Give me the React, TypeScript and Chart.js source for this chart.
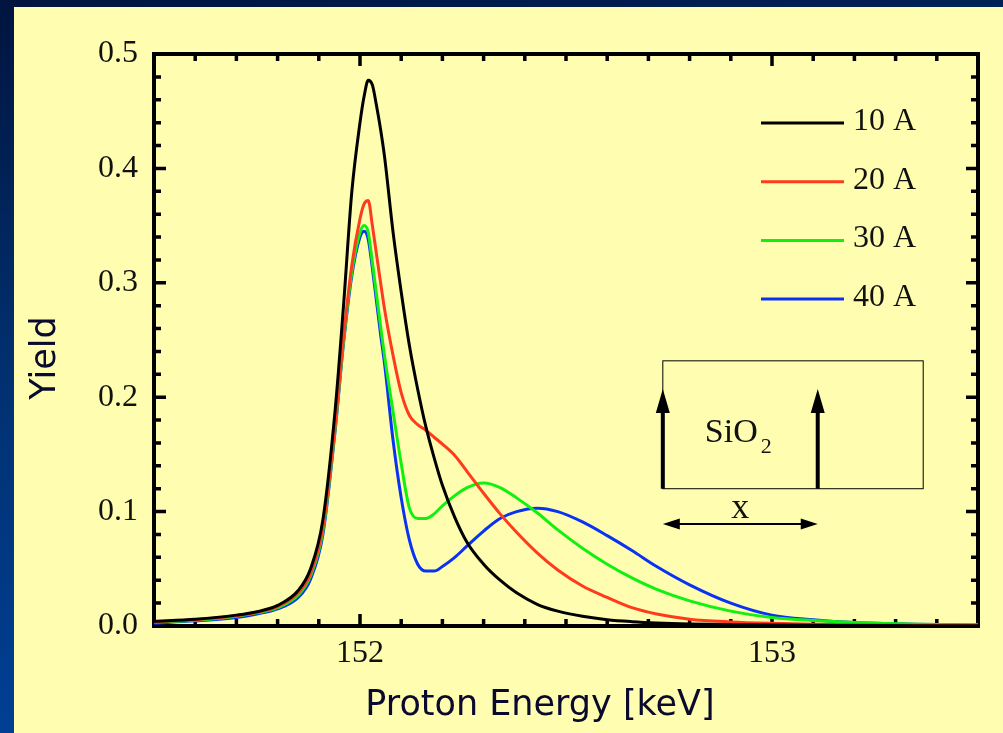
import React, { useEffect, useRef } from "react";
import { Chart, registerables } from "chart.js";

Chart.register(...registerables);

// Proton energy grid [keV]
const energy = [
  151.5, 151.6, 151.7, 151.75, 151.8, 151.85, 151.88, 151.91, 151.94, 151.96, 151.98,
  152.0, 152.01, 152.02, 152.03, 152.04, 152.05, 152.06, 152.08, 152.1, 152.12, 152.14,
  152.16, 152.18, 152.2, 152.23, 152.26, 152.3, 152.34, 152.38, 152.43, 152.48, 152.54,
  152.6, 152.66, 152.72, 152.8, 152.9, 153.0, 153.1, 153.2, 153.35, 153.5,
];

const yield10A = [
  0.004, 0.0058, 0.0095, 0.0125, 0.018, 0.031, 0.05, 0.093, 0.19, 0.28, 0.379,
  0.44, 0.463, 0.477, 0.473, 0.455, 0.434, 0.409, 0.345, 0.292, 0.245, 0.207,
  0.174, 0.147, 0.123, 0.095, 0.073, 0.054, 0.04, 0.029, 0.019, 0.013, 0.0085,
  0.0055, 0.0038, 0.0027, 0.0018, 0.0012, 0.0008, 0.0006, 0.0005, 0.0003, 0.0002,
];

const yield20A = [
  0.0038, 0.0055, 0.009, 0.012, 0.017, 0.029, 0.046, 0.086, 0.176, 0.252, 0.315,
  0.356, 0.369, 0.372, 0.35, 0.325, 0.3, 0.276, 0.237, 0.204, 0.184, 0.176,
  0.171, 0.165, 0.159, 0.149, 0.135, 0.116, 0.098, 0.082, 0.064, 0.049, 0.035,
  0.025, 0.016, 0.0105, 0.006, 0.0036, 0.0023, 0.0015, 0.001, 0.0006, 0.0004,
];

const yield30A = [
  0.0035, 0.005, 0.0085, 0.0115, 0.016, 0.027, 0.044, 0.083, 0.174, 0.249, 0.309,
  0.344, 0.35, 0.344, 0.318, 0.29, 0.262, 0.235, 0.188, 0.142, 0.103, 0.094,
  0.094, 0.098, 0.105, 0.114, 0.121, 0.125, 0.121, 0.112, 0.099, 0.084, 0.068,
  0.054, 0.042, 0.032, 0.022, 0.013, 0.0075, 0.0048, 0.003, 0.0015, 0.001,
];

const yield40A = [
  0.0025, 0.0045, 0.0075, 0.0105, 0.015, 0.025, 0.041, 0.08, 0.172, 0.247, 0.306,
  0.34, 0.345, 0.338, 0.313, 0.284, 0.255, 0.228, 0.163, 0.112, 0.075, 0.054,
  0.048, 0.048, 0.052, 0.06, 0.07, 0.083, 0.094, 0.1, 0.103, 0.1, 0.091,
  0.079, 0.066, 0.052, 0.036, 0.02, 0.0095, 0.0055, 0.003, 0.0015, 0.0008,
];

const seriesLabels = ["10 A", "20 A", "30 A", "40 A"];
const seriesValues = [yield10A, yield20A, yield30A, yield40A];
const seriesColors = ["#000000", "#FF3B1E", "#12F012", "#0A32F5"];

const xMajorTicks = [152, 153];
const yMajorTicks = [0, 0.1, 0.2, 0.3, 0.4, 0.5];

const xTitle = "Proton Energy [keV]";
const yTitle = "Yield";

// inset sketch (in data units)
const insetBox = { x0: 152.735, x1: 153.367, y0: 0.12, y1: 0.2318 };
const insetArrowX = [152.735, 153.111];
const insetArrowTip = 0.2071;
const insetDimY = 0.0892;

const isMajor = (v: number, list: number[]) => list.some((m) => Math.abs(m - v) < 1e-6);

const TITLE_FONT = '"DejaVu Sans", sans-serif';
const SERIF = '"Liberation Serif", "Times New Roman", serif';

const decorPlugin = {
  id: "decor",
  beforeDatasetsDraw(chart: any) {
    const { ctx, chartArea: a, scales } = chart;
    const xs = scales.x;
    const ys = scales.y;
    ctx.save();
    ctx.strokeStyle = "#000";
    ctx.lineWidth = 4;
    ctx.strokeRect(a.left, a.top, a.right - a.left, a.bottom - a.top);
    ctx.lineWidth = 3.5;
    ctx.beginPath();
    xs.ticks.forEach((t: any) => {
      const px = xs.getPixelForValue(t.value);
      if (px <= a.left + 2 || px >= a.right - 2) return;
      const len = isMajor(t.value, xMajorTicks) ? 12 : 7;
      ctx.moveTo(px, a.bottom);
      ctx.lineTo(px, a.bottom - len);
      ctx.moveTo(px, a.top);
      ctx.lineTo(px, a.top + len);
    });
    ys.ticks.forEach((t: any) => {
      const py = ys.getPixelForValue(t.value);
      if (py <= a.top + 2 || py >= a.bottom - 2) return;
      const len = isMajor(t.value, yMajorTicks) ? 12 : 7;
      ctx.moveTo(a.left, py);
      ctx.lineTo(a.left + len, py);
      ctx.moveTo(a.right, py);
      ctx.lineTo(a.right - len, py);
    });
    ctx.stroke();
    ctx.restore();
  },
  afterDatasetsDraw(chart: any) {
    const { ctx, chartArea: a, scales } = chart;
    const xs = scales.x;
    const ys = scales.y;
    ctx.save();

    // legend
    chart.data.datasets.forEach((ds: any, i: number) => {
      const y = a.top + 69 + i * 58.7;
      ctx.strokeStyle = ds.borderColor;
      ctx.lineWidth = 3;
      ctx.beginPath();
      ctx.moveTo(a.right - 217, y);
      ctx.lineTo(a.right - 134, y);
      ctx.stroke();
      ctx.fillStyle = "#111";
      ctx.font = `32px ${SERIF}`;
      ctx.textAlign = "left";
      ctx.textBaseline = "alphabetic";
      ctx.fillText(ds.label, a.right - 125, y + 7);
    });

    // inset sketch
    const bx0 = xs.getPixelForValue(insetBox.x0);
    const bx1 = xs.getPixelForValue(insetBox.x1);
    const by0 = ys.getPixelForValue(insetBox.y0);
    const by1 = ys.getPixelForValue(insetBox.y1);
    ctx.strokeStyle = "#000";
    ctx.fillStyle = "#000";
    ctx.lineWidth = 1;
    ctx.strokeRect(bx0, by1, bx1 - bx0, by0 - by1);
    const tipY = ys.getPixelForValue(insetArrowTip);
    insetArrowX.forEach((v) => {
      const px = xs.getPixelForValue(v);
      ctx.lineWidth = 4;
      ctx.beginPath();
      ctx.moveTo(px, by0);
      ctx.lineTo(px, tipY + 20);
      ctx.stroke();
      ctx.beginPath();
      ctx.moveTo(px, tipY);
      ctx.lineTo(px - 7, tipY + 24);
      ctx.lineTo(px + 7, tipY + 24);
      ctx.closePath();
      ctx.fill();
    });
    const dy = ys.getPixelForValue(insetDimY);
    const dx0 = xs.getPixelForValue(insetArrowX[0]);
    const dx1 = xs.getPixelForValue(insetArrowX[1]);
    ctx.lineWidth = 2;
    ctx.beginPath();
    ctx.moveTo(dx0 + 10, dy);
    ctx.lineTo(dx1 - 10, dy);
    ctx.stroke();
    ctx.beginPath();
    ctx.moveTo(dx0, dy);
    ctx.lineTo(dx0 + 17, dy - 5.5);
    ctx.lineTo(dx0 + 17, dy + 5.5);
    ctx.closePath();
    ctx.fill();
    ctx.beginPath();
    ctx.moveTo(dx1, dy);
    ctx.lineTo(dx1 - 17, dy - 5.5);
    ctx.lineTo(dx1 - 17, dy + 5.5);
    ctx.closePath();
    ctx.fill();

    ctx.fillStyle = "#111";
    ctx.textBaseline = "alphabetic";
    ctx.textAlign = "center";
    ctx.font = `36px ${SERIF}`;
    ctx.fillText("x", (dx0 + dx1) / 2, dy - 6);
    ctx.textAlign = "left";
    const sx = bx0 + 42;
    const sy = by1 + 81;
    ctx.font = `34px ${SERIF}`;
    ctx.fillText("SiO", sx, sy);
    const w = ctx.measureText("SiO").width;
    ctx.font = `22px ${SERIF}`;
    ctx.fillText("2", sx + w + 3, sy + 11);

    // axis titles
    ctx.fillStyle = "#0A0A2E";
    ctx.font = `35px ${TITLE_FONT}`;
    ctx.textAlign = "center";
    ctx.textBaseline = "middle";
    ctx.fillText(xTitle, a.left + 386, a.bottom + 80);
    ctx.translate(a.left - 108, a.top + 304);
    ctx.rotate(-Math.PI / 2);
    ctx.fillText(yTitle, 0, 0);
    ctx.restore();
  },
};

export default function App() {
  const canvasRef = useRef<HTMLCanvasElement>(null);

  useEffect(() => {
    const canvas = canvasRef.current;
    if (!canvas) return;
    const chart = new Chart(canvas, {
      type: "line",
      data: {
        datasets: seriesLabels.map((label, i) => ({
          label,
          data: energy.map((e, j) => ({ x: e, y: seriesValues[i][j] })),
          borderColor: seriesColors[i],
          backgroundColor: seriesColors[i],
          borderWidth: 3,
          pointRadius: 0,
          cubicInterpolationMode: "monotone" as const,
          fill: false,
        })),
      },
      options: {
        responsive: false,
        animation: false,
        devicePixelRatio: 1,
        layout: { padding: { left: 0, top: 54, right: 25, bottom: 0 } },
        plugins: { legend: { display: false }, tooltip: { enabled: false } },
        scales: {
          x: {
            type: "linear",
            min: 151.5,
            max: 153.5,
            grid: { display: false, drawTicks: false },
            border: { display: false },
            afterFit: (s: any) => {
              s.height = 107;
            },
            ticks: {
              stepSize: 0.1,
              autoSkip: false,
              maxRotation: 0,
              padding: 8,
              color: "#111",
              font: { family: SERIF, size: 32 },
              callback: (v: any) => {
                const n = Number(v);
                return isMajor(n, xMajorTicks) ? String(Math.round(n)) : "";
              },
            },
          },
          y: {
            type: "linear",
            min: 0,
            max: 0.5,
            grid: { display: false, drawTicks: false },
            border: { display: false },
            afterFit: (s: any) => {
              s.width = 154;
            },
            ticks: {
              stepSize: 0.02,
              autoSkip: false,
              padding: 16,
              color: "#111",
              font: { family: SERIF, size: 32 },
              callback: (v: any) => {
                const n = Number(v);
                return isMajor(n, yMajorTicks) ? n.toFixed(1) : "";
              },
            },
          },
        },
      },
      plugins: [decorPlugin],
    });
    return () => chart.destroy();
  }, []);

  return (
    <div
      style={{
        position: "fixed",
        left: 0,
        top: 0,
        width: 1003,
        height: 733,
        overflow: "hidden",
        background: "linear-gradient(170deg, #00143F 0%, #01306F 40%, #0046A6 100%)",
      }}
    >
      <div
        style={{
          position: "absolute",
          left: 14,
          top: 7,
          right: 0,
          bottom: 0,
          background: "#FFFDAF",
        }}
      />
      <canvas
        ref={canvasRef}
        width={1003}
        height={733}
        style={{ position: "absolute", left: 0, top: 0, width: 1003, height: 733 }}
      />
    </div>
  );
}
